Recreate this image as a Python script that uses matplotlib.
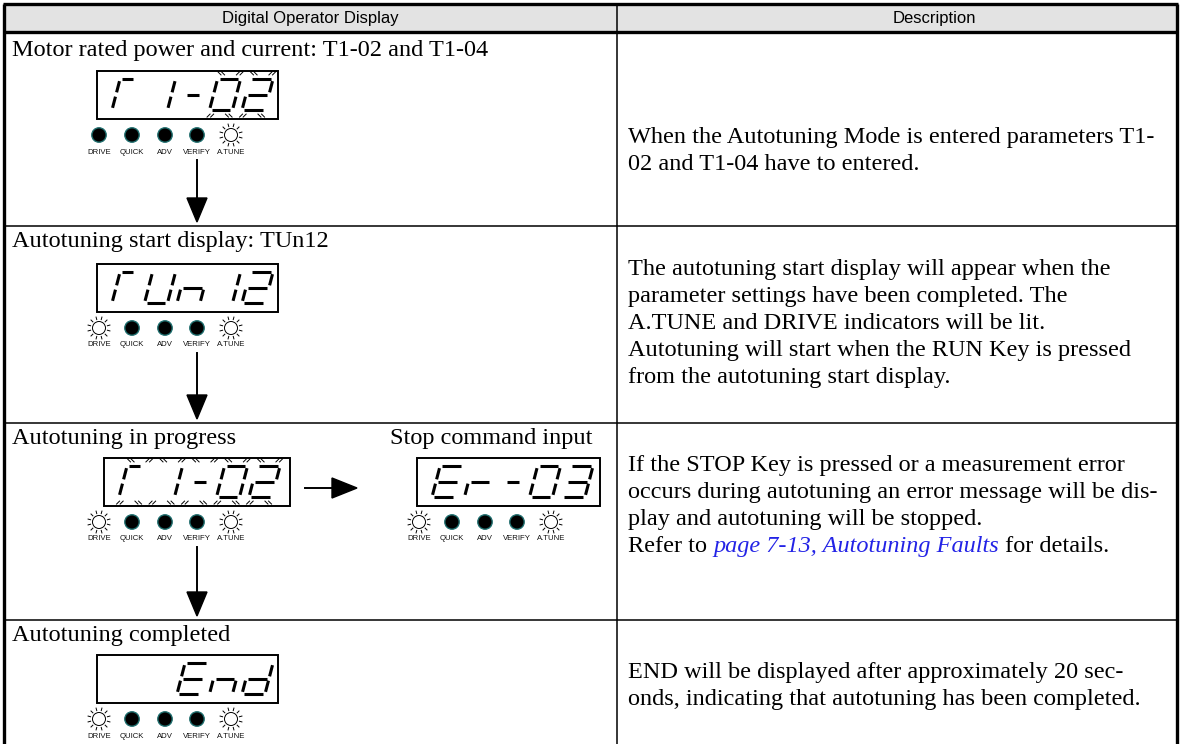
import matplotlib
matplotlib.use("Agg")
import matplotlib.pyplot as plt
from matplotlib.patches import Rectangle, Circle, Polygon
import numpy as np

# ---- content ----
header_left = "Digital Operator Display"
header_right = "Description"
step_titles = ["Motor rated power and current: T1-02 and T1-04",
               "Autotuning start display: TUn12",
               "Autotuning in progress",
               "Autotuning completed"]
stop_title = "Stop command input"
step_displays = ["T1-02", "TUn12", "T1-02", "  End"]
stop_display = "Er-03"
step_blink = ["00011", "00000", "11111", "00000"]
stop_blink = "00000"
led_names = ["DRIVE", "QUICK", "ADV", "VERIFY", "A.TUNE"]
step_leds = ["00001", "10001", "10001", "10001"]   # 1 = lit / flashing
stop_leds = "10001"
descriptions = [
    ["When the Autotuning Mode is entered parameters T1-",
     "02 and T1-04 have to entered."],
    ["The autotuning start display will appear when the",
     "parameter settings have been completed. The",
     "A.TUNE and DRIVE indicators will be lit.",
     "Autotuning will start when the RUN Key is pressed",
     "from the autotuning start display."],
    ["If the STOP Key is pressed or a measurement error",
     "occurs during autotuning an error message will be dis-",
     "play and autotuning will be stopped."],
    ["END will be displayed after approximately 20 sec-",
     "onds, indicating that autotuning has been completed."],
]
ref_parts = ["Refer to ", "page 7-13, Autotuning Faults", " for details."]

# ---- layout (pixels) ----
W, H = 1180, 744
X_L, X_R, X_DIV = 4, 1177, 617
Y_TOP, Y_HEAD = 4, 32
row_tops = [32, 226, 423, 620]
row_bots = [226, 423, 620, 760]
BOX_W, BOX_H = 181, 48
CW, CH, SLANT, PITCH = 23, 31, 0.26, 32.5
LED_DX = [2, 35, 68, 100, 134]
SERIF = "Liberation Serif"
BODY = 17.5

fig = plt.figure(figsize=(W / 100, H / 100), dpi=100)
ax = fig.add_axes([0, 0, 1, 1])
ax.set_xlim(0, W)
ax.set_ylim(H, 0)
ax.axis("off")

# table frame
ax.add_patch(Rectangle((X_L, Y_TOP), X_R - X_L, Y_HEAD - Y_TOP, color="#e3e3e3", lw=0))
for y in (Y_TOP, Y_HEAD):
    ax.plot([X_L - 1, X_R + 1], [y, y], color="black", lw=2.4, solid_capstyle="butt")
for x in (X_L, X_R):
    ax.plot([x, x], [Y_TOP, H + 5], color="black", lw=2.4, solid_capstyle="butt")
ax.plot([X_DIV, X_DIV], [Y_TOP, H + 5], color="black", lw=1.1)
for y in row_tops[1:]:
    ax.plot([X_L, X_R], [y, y], color="black", lw=1.1)

hfont = dict(family=["Liberation Sans Narrow", "Liberation Sans"], fontsize=12)
ax.text((X_L + X_DIV) / 2, (Y_TOP + Y_HEAD) / 2 + 1, header_left, ha="center", va="center", **hfont)
ax.text(934, (Y_TOP + Y_HEAD) / 2 + 1, header_right, ha="center", va="center", **hfont)

SEG = {"a": ((0.1, 1), (0.9, 1)), "b": ((1, 0.93), (1, 0.57)), "c": ((1, 0.43), (1, 0.07)),
       "d": ((0.1, 0), (0.9, 0)), "e": ((0, 0.07), (0, 0.43)), "f": ((0, 0.57), (0, 0.93)),
       "g": ((0.1, 0.5), (0.9, 0.5))}
CHARS = {"T": "aef", "1": "bc", "-": "g", "0": "abcdef", "2": "abged", "U": "bcdef",
         "n": "ceg", "E": "adefg", "r": "eg", "3": "abcdg", "d": "bcdeg", " ": ""}


def pt(x0, yb, u, v):
    return x0 + u * CW + v * CH * SLANT, yb - v * CH


def draw_display(x, y, text, blink, w=BOX_W):
    ax.add_patch(Rectangle((x, y), w, BOX_H, fill=False, ec="black", lw=1.4))
    for i, ch in enumerate(text):
        x0 = x + 15 + i * PITCH
        yb = y + 8 + CH
        for s in CHARS[ch]:
            (u0, v0), (u1, v1) = SEG[s]
            if ch == "T" and s == "a":
                u1 = 0.55
            if ch == "-":
                u0, u1 = 0.25, 0.8
            p0, p1 = pt(x0, yb, u0, v0), pt(x0, yb, u1, v1)
            ax.plot([p0[0], p1[0]], [p0[1], p1[1]], color="black", lw=2.2, solid_capstyle="butt")
        if blink[i] == "1":
            for u, v, sx, sy in [(0.1, 1.18, -1, -1), (0.9, 1.18, 1, -1), (0.1, -0.18, -1, 1), (0.9, -0.18, 1, 1)]:
                cx, cy = pt(x0, yb, u, v)
                for off in (-1.8, 1.8):
                    ax.plot([cx + off - sx * 1.5, cx + off + sx * 1.5],
                            [cy - sy * 1.5, cy + sy * 1.5], color="black", lw=0.7)


def draw_leds(x, y, states):
    for k, (name, st) in enumerate(zip(led_names, states)):
        cx = x + LED_DX[k]
        if st == "1":
            ax.add_patch(Circle((cx, y), 6.5, fc="white", ec="black", lw=0.7))
            for ang in np.arange(12) * np.pi / 6 + np.pi / 12:
                ax.plot([cx + 8.7 * np.cos(ang), cx + 11.3 * np.cos(ang)],
                        [y + 8.7 * np.sin(ang), y + 11.3 * np.sin(ang)], color="black", lw=0.7)
        else:
            ax.add_patch(Circle((cx, y), 7.2, fc="black", ec="#1f6e6e", lw=1.0))
        ax.text(cx, y + 17, name, ha="center", va="center", fontsize=5.6,
                family="Liberation Sans", color="#111111")


def down_arrow(x, y0, y1):
    ax.plot([x, x], [y0, y1 - 22], color="black", lw=1.4)
    ax.add_patch(Polygon([(x - 10, y1 - 24), (x + 10, y1 - 24), (x, y1)], closed=True, color="black"))


box_x = [97, 97, 104, 97]
box_w = [BOX_W, BOX_W, 186, BOX_W]
box_off = [39, 38, 35, 35]
title_off = [24, 21, 21, 21]
for r in range(4):
    top = row_tops[r]
    ax.text(12, top + title_off[r], step_titles[r], ha="left", va="baseline", family=SERIF, fontsize=BODY)
    by = top + box_off[r]
    draw_display(box_x[r], by, step_displays[r], step_blink[r], box_w[r])
    draw_leds(97, by + BOX_H + 16, step_leds[r])
    if r < 3:
        down_arrow(197, by + BOX_H + 41, row_bots[r] - 4)

# stop command branch in row 3
top = row_tops[2]
ax.text(592, top + title_off[2], stop_title, ha="right", va="baseline", family=SERIF, fontsize=BODY)
sx = 417
draw_display(sx, top + 35, stop_display, stop_blink, 183)
draw_leds(sx, top + 35 + BOX_H + 16, stop_leds)
ay = top + 35 + BOX_H / 2 + 6
ax.plot([305, 335], [ay, ay], color="black", lw=1.4)
ax.add_patch(Polygon([(332, ay - 10), (332, ay + 10), (357, ay)], closed=True, color="black"))

# description column
DESC_X = 628
desc_base = [[143, 170], [275, 302, 329, 356, 383], [471, 498, 525], [678, 705]]
for lines, ys in zip(descriptions, desc_base):
    for line, y in zip(lines, ys):
        ax.text(DESC_X, y, line, ha="left", va="baseline", family=SERIF, fontsize=BODY)

renderer = fig.canvas.get_renderer()


def width(t):
    return t.get_window_extent(renderer=renderer).width


y = 552
x = DESC_X
styles = [dict(color="black"), dict(color="#2323e6", style="italic"), dict(color="black")]
for part, st in zip(ref_parts, styles):
    t = ax.text(x, y, part, ha="left", va="baseline", family=SERIF, fontsize=BODY, **st)
    x += width(t)

fig.savefig("out.png", dpi=100)
